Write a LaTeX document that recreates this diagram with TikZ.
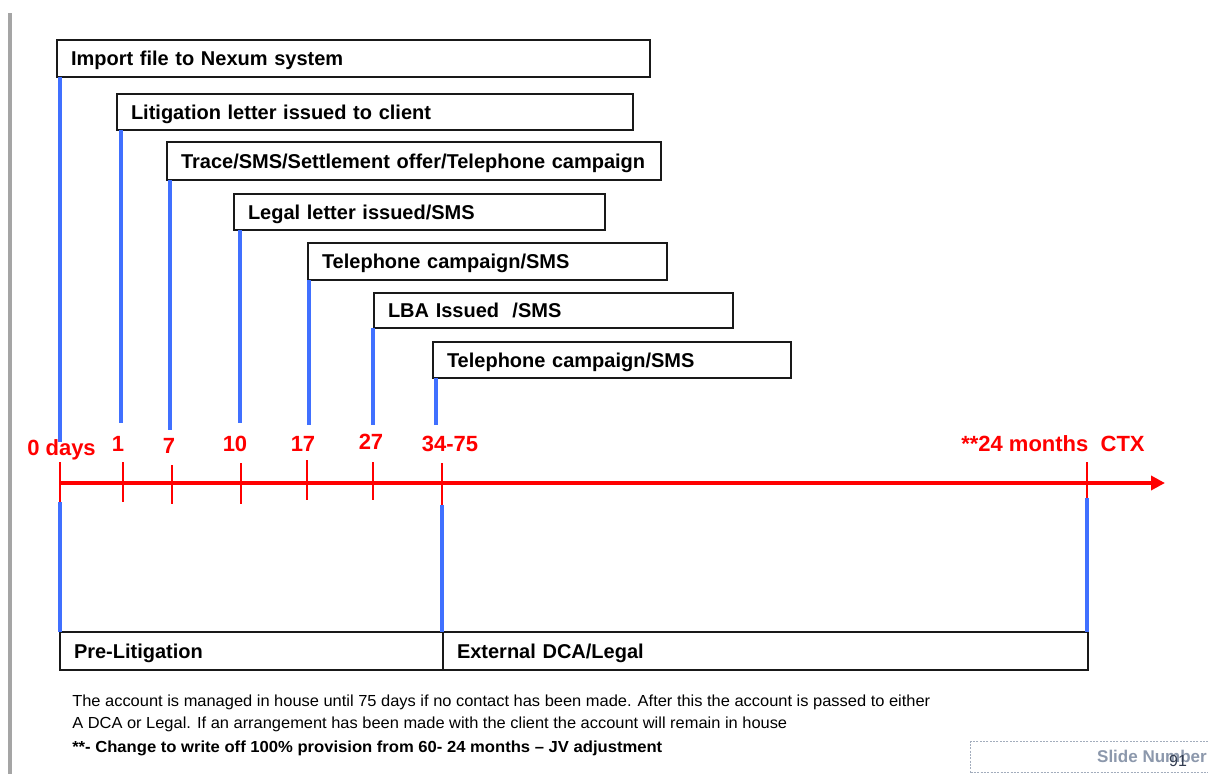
\documentclass[tikz,border=0pt]{standalone}
\usepackage{fontspec}
\setmainfont{Liberation Sans}
\usepackage{graphicx}
\usetikzlibrary{arrows.meta}
\definecolor{lineblue}{RGB}{64,112,255}
\definecolor{axred}{RGB}{255,0,0}
\definecolor{bargray}{RGB}{165,165,165}
\definecolor{slidegray}{RGB}{140,152,172}
\definecolor{numdark}{RGB}{50,60,80}
\begin{document}
\begin{tikzpicture}[x=0.75pt,y=-0.75pt,
  evbox/.style={draw=black!90, line width=1.1pt, anchor=north west, inner xsep=10.5pt, inner ysep=0pt, outer sep=0pt, align=left, text height=10.7pt, text depth=0pt, font=\fontsize{15pt}{18pt}\selectfont\bfseries},
  blueline/.style={draw=lineblue, line width=2.4pt},
  axisline/.style={draw=axred, line width=3pt},
  tickline/.style={draw=axred, line width=2.2pt},
  daylabel/.style={text=axred, font=\fontsize{16.5pt}{19pt}\selectfont\bfseries, inner sep=0pt, anchor=base},
  notetext/.style={anchor=base west, inner sep=0pt, text=black, font=\fontsize{12pt}{14pt}\selectfont}
]
\useasboundingbox[fill=white] (0,0) rectangle (1208,774);
\fill[bargray] (8,13) rectangle (12,774);

% event boxes
\node[evbox, text width=423.75pt, minimum height=27.75pt] (b1) at (57,40) {Import file to Nexum system};
\node[evbox, text width=366pt, minimum height=27pt] (b2) at (117,94) {Litigation letter issued to client};
\node[evbox, text width=349.5pt, minimum height=28.5pt] (b3) at (167,142) {Trace/SMS/Settlement offer/Telephone campaign};
\node[evbox, text width=257.25pt, minimum height=27pt] (b4) at (234,194) {Legal letter issued/SMS};
\node[evbox, text width=248.25pt, minimum height=27.75pt] (b5) at (308,243) {Telephone campaign/SMS};
\node[evbox, text width=248.25pt, minimum height=26.25pt] (b6) at (374,293) {LBA Issued~ /SMS};
\node[evbox, text width=247.5pt, minimum height=27pt] (b7) at (433,342) {Telephone campaign/SMS};

% phase boxes
\node[evbox, text width=266.25pt, minimum height=28.5pt] (pl) at (60,632) {Pre-Litigation};
\node[evbox, text width=462.75pt, minimum height=28.5pt] (ed) at (443,632) {External DCA/Legal};

% blue line ends
\coordinate (e1) at (60,442);
\coordinate (e2) at (121,423);
\coordinate (e3) at (170,430);
\coordinate (e4) at (240,423);
\coordinate (e5) at (309,425);
\coordinate (e6) at (373,425);
\coordinate (e7) at (436,425);

\draw[blueline] (b1.south west -| e1) -- (e1);
\draw[blueline] (b2.south west -| e2) -- (e2);
\draw[blueline] (b3.south west -| e3) -- (e3);
\draw[blueline] (b4.south west -| e4) -- (e4);
\draw[blueline] (b5.south west -| e5) -- (e5);
\draw[blueline] (b6.south west -| e6) -- (e6);
\draw[blueline] (b7.south west -| e7) -- (e7);

% axis
\coordinate (ax0) at (60,483);
\coordinate (ax1) at (1165,483);
\draw[axisline, -{Triangle[length=10.5pt, width=10.5pt]}] (ax0) -- (ax1);

% ticks
\coordinate (t0a) at (60,462);   \coordinate (t0b) at (60,502);
\coordinate (t1a) at (123,462);  \coordinate (t1b) at (123,502);
\coordinate (t2a) at (172,465);  \coordinate (t2b) at (172,504);
\coordinate (t3a) at (241,463);  \coordinate (t3b) at (241,504);
\coordinate (t4a) at (307,460);  \coordinate (t4b) at (307,500);
\coordinate (t5a) at (373,462);  \coordinate (t5b) at (373,500);
\coordinate (t6a) at (442,463);  \coordinate (t6b) at (442,505);
\coordinate (t7a) at (1087,462); \coordinate (t7b) at (1087,498);
\foreach \i in {0,...,7} {\draw[tickline] (t\i a) -- (t\i b);}

% lower blue lines
\draw[blueline] (t0b) -- (t0b |- pl.north);
\draw[blueline] (t6b) -- (t6b |- pl.north);
\draw[blueline] (t7b) -- (t7b |- ed.north);

% day labels
\node[daylabel, anchor=base west] (d0) at (27,455) {0 days};
\node[daylabel] (d1) at (118,451) {1};
\node[daylabel] (d2) at (169,453) {7};
\node[daylabel] (d3) at (235,451) {10};
\node[daylabel] (d4) at (303,451) {17};
\node[daylabel] (d5) at (371,449) {27};
\node[daylabel] (d6) at (450,451) {34-75};
\node[daylabel, anchor=base west] (d7) at (961,451) {**24 months~ CTX};

% notes
\node[notetext] (n1) at (72,706) {\resizebox{643.5pt}{\height}{The account is managed in house until 75 days if no contact has been made. After this the account is passed to either}};
\node[notetext] (n2) at (72,728) {\resizebox{536.25pt}{\height}{A DCA or Legal. If an arrangement has been made with the client the account will remain in house}};
\node[notetext, font=\fontsize{12pt}{14pt}\selectfont\bfseries] (n3) at (72,752) {\resizebox{442.5pt}{\height}{**- Change to write off 100\% provision from 60- 24 months – JV adjustment}};

% slide number placeholder
\node[draw=slidegray!80, dash pattern=on 1.5pt off 1pt, line width=0.75pt, anchor=north west, minimum width=183.75pt, minimum height=23.25pt, inner sep=0pt] (snbox) at (970,741) {};
\node[anchor=base east, text=slidegray, font=\fontsize{12.75pt}{15pt}\selectfont\bfseries, inner sep=0pt] (snt) at (1207,762) {Slide Number};
\node[anchor=base, text=numdark, font=\fontsize{12pt}{14pt}\selectfont, inner sep=0pt] (snn) at (1178,766) {91};
\end{tikzpicture}
\end{document}
